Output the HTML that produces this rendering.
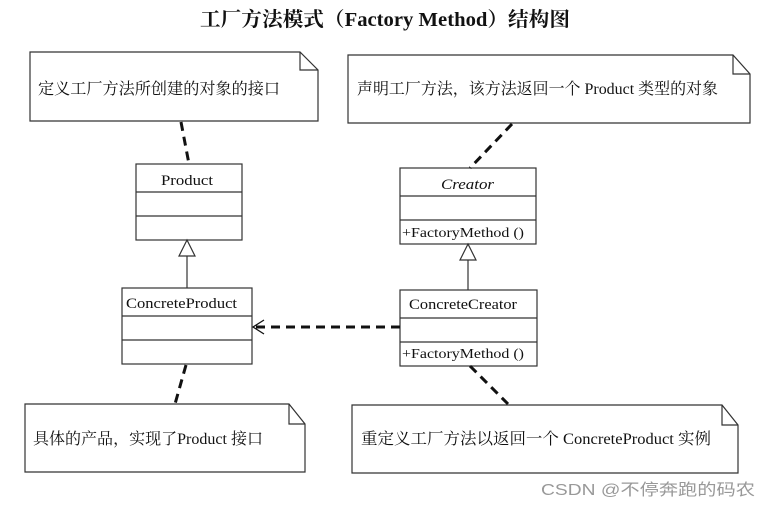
<!DOCTYPE html>
<html><head><meta charset="utf-8"><style>
body{margin:0;background:#fff;}
svg text{font-family:"Liberation Serif","Noto Serif CJK SC",serif;fill:#111;}
</style></head><body>
<svg width="768" height="507" viewBox="0 0 768 507" xmlns="http://www.w3.org/2000/svg">
<text x="200" y="26" font-size="20" font-weight="bold" textLength="370" lengthAdjust="spacingAndGlyphs">工厂方法模式（Factory Method）结构图</text>
<g fill="#fff" stroke="#333" stroke-width="1.2">
<path d="M30 52 H300 L318 70 V121 H30 Z"/><path d="M300 52 V70 H318" fill="none"/>
<path d="M348 55 H733 L750 74 V123 H348 Z"/><path d="M733 55 V74 H750" fill="none"/>
<path d="M25 404 H289 L305 424 V472 H25 Z"/><path d="M289 404 V424 H305" fill="none"/>
<path d="M352 405 H722 L738 425 V473 H352 Z"/><path d="M722 405 V425 H738" fill="none"/>
<rect x="136" y="164" width="106" height="76"/><path d="M136 192H242M136 216H242"/>
<rect x="122" y="288" width="130" height="76"/><path d="M122 316H252M122 340H252"/>
<rect x="400" y="168" width="136" height="76"/><path d="M400 196H536M400 220H536"/>
<rect x="400" y="290" width="137" height="76"/><path d="M400 318H537M400 342H537"/>
<path d="M187 256V288M468 260V290"/>
<path d="M187 240 L179 256 H195 Z M468 244 L460 260 H476 Z"/>
</g>
<g stroke="#111" stroke-width="3" stroke-dasharray="9,6" fill="none">
<path d="M181 122 L189 164"/><path d="M512 124 L470 168"/>
<path d="M186 365 L175 404"/><path d="M470 366 L508 404"/>
<path d="M400 327 H256"/>
</g>
<path d="M264 320 L253 327 L264 334" stroke="#111" stroke-width="1.3" fill="none"/>
<g font-size="16">
<text x="38" y="94" textLength="242" lengthAdjust="spacingAndGlyphs">定义工厂方法所创建的对象的接口</text>
<text x="357" y="94" textLength="361" lengthAdjust="spacingAndGlyphs">声明工厂方法，该方法返回一个 Product 类型的对象</text>
<text x="33" y="444" textLength="230" lengthAdjust="spacingAndGlyphs">具体的产品，实现了Product 接口</text>
<text x="361" y="444" textLength="350" lengthAdjust="spacingAndGlyphs">重定义工厂方法以返回一个 ConcreteProduct 实例</text>
</g>
<g font-size="15">
<text x="161" y="185" textLength="52" lengthAdjust="spacingAndGlyphs">Product</text>
<text x="126" y="308" textLength="111" lengthAdjust="spacingAndGlyphs">ConcreteProduct</text>
<text x="441" y="189" font-style="italic" textLength="53" lengthAdjust="spacingAndGlyphs">Creator</text>
<text x="402" y="237" font-size="14" textLength="122" lengthAdjust="spacingAndGlyphs">+FactoryMethod ()</text>
<text x="409" y="309" textLength="108" lengthAdjust="spacingAndGlyphs">ConcreteCreator</text>
<text x="402" y="358" font-size="14" textLength="122" lengthAdjust="spacingAndGlyphs">+FactoryMethod ()</text>
</g>
<text x="541" y="495" font-size="16" textLength="214" lengthAdjust="spacingAndGlyphs" style="font-family:'Liberation Sans','Noto Sans CJK SC',sans-serif;fill:#999">CSDN @不停奔跑的码农</text>
</svg>
</body></html>
